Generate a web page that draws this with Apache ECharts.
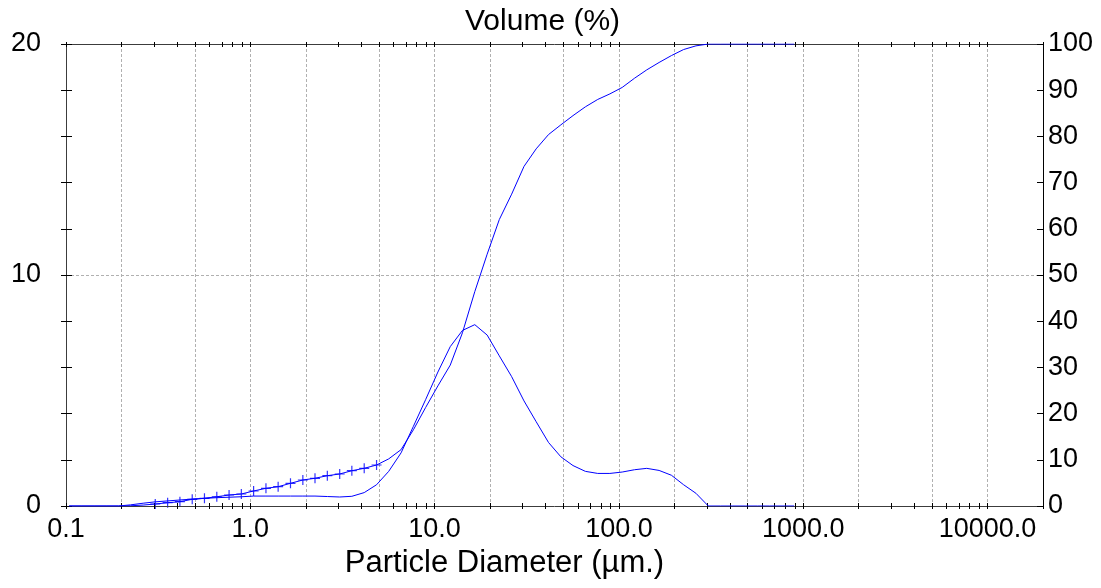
<!DOCTYPE html>
<html><head><meta charset="utf-8">
<script src="https://cdn.jsdelivr.net/npm/echarts@6/dist/echarts.min.js"></script>
<style>html,body{margin:0;padding:0;background:#fff}#chart{width:1101px;height:588px}</style>
</head><body><div id="chart"></div>
<script>
// Particle diameter channels (µm)
const diameters = [0.104,0.122,0.142,0.165,0.193,0.224,0.262,0.305,0.356,0.415,0.484,0.564,0.658,0.767,0.894,1.042,1.216,1.416,1.652,1.928,2.244,2.618,3.055,3.556,4.150,4.842,5.636,6.577,7.674,8.933,10.42,12.16,14.16,16.52,19.28,22.44,26.18,30.55,35.56,41.50,48.42,56.36,65.77,76.74,89.33,104.2,121.6,141.6,165.2,192.8,224.4,261.8,305.5,355.6,415.0,484.2,563.6,657.7,767.4,893.3];
// Volume frequency (%), left axis
const volumeFrequency = [0,0,0,0,0,0.05,0.12,0.18,0.22,0.26,0.30,0.33,0.36,0.38,0.40,0.43,0.43,0.43,0.43,0.43,0.43,0.41,0.39,0.42,0.58,0.92,1.50,2.30,3.45,4.60,5.80,6.90,7.60,7.85,7.40,6.50,5.60,4.55,3.65,2.75,2.13,1.75,1.50,1.41,1.41,1.47,1.57,1.63,1.54,1.33,0.92,0.55,0,0,0,0,0,0,0,0];
// Cumulative volume (%), right axis
const volumeCumulative = [0,0,0,0,0,0.05,0.2,0.43,0.71,0.93,1.45,1.67,2.0,2.38,2.6,3.25,3.83,4.18,4.91,5.63,6.0,6.56,6.93,7.64,8.16,8.87,10.2,12.2,16.5,21.3,26.0,30.5,37.5,46.4,54.5,62.0,67.5,73.5,77.3,80.4,82.5,84.5,86.4,88.0,89.2,90.6,92.6,94.4,96.0,97.5,98.8,99.6,100,100,100,100,100,100,100,100];
// "+" marked points (µm, cumulative %)
const markerDiameters = [0.305,0.356,0.415,0.484,0.564,0.658,0.767,0.894,1.042,1.216,1.416,1.652,1.928,2.244,2.618,3.055,3.556,4.150,4.842];
const markerCumulative = [0.43,0.71,0.93,1.45,1.67,2.0,2.38,2.6,3.25,3.83,4.18,4.91,5.63,6.0,6.56,6.93,7.64,8.16,8.87];

// Axis tick definitions
const X_MIN = 0.1, X_MAX = 20000;
const xLabelValues = [0.1, 1, 10, 100, 1000, 10000];
const xDecades = [0.1, 1, 10, 100, 1000, 10000];
const xMinorMultipliers = [1,2,3,4,5,6,7,8,9];
const xGridMultipliers = [1,2,5];
const leftTickValues = [0,2,4,6,8,10,12,14,16,18,20];
const leftLabelValues = [0,10,20];
const leftGridValues = [10];

const xTickValues = xDecades.flatMap(d => xMinorMultipliers.map(m => +(d*m).toPrecision(6))).filter(v => v <= X_MAX);
const xGridValues = xDecades.flatMap(d => xGridMultipliers.map(m => +(d*m).toPrecision(6))).filter(v => v > X_MIN && v < X_MAX);

const FONT = "'Liberation Sans', Arial, Helvetica, sans-serif";
const AXIS_COLOR = '#3c3c3c';
const BLUE = '#0000ff';
const GRID_LINE = {show:true, lineStyle:{color:'#b0b0b0', width:1, type:[3,2]}};

function blankAxis(extra){
  return Object.assign({
    gridIndex:0, z:3,
    axisLine:{show:false, onZero:false},
    axisLabel:{show:false},
    axisTick:{show:false},
    splitLine:{show:false},
    minorTick:{show:false},
    minorSplitLine:{show:false}
  }, extra);
}
function xLog(extra){ return blankAxis(Object.assign({type:'log', logBase:10, min:X_MIN, max:X_MAX}, extra)); }
function yVal(min, max, interval, extra){ return blankAxis(Object.assign({type:'value', min:min, max:max, interval:interval}, extra)); }

const chart = echarts.init(document.getElementById('chart'), null, {renderer:'canvas'});
chart.setOption({
  animation:false,
  backgroundColor:'#ffffff',
  textStyle:{fontFamily:FONT},
  title:{text:'Volume (%)', left:465, top:7, padding:0,
    textStyle:{fontSize:30, fontWeight:'normal', color:'#000', fontFamily:FONT}},
  grid:{left:66, right:58, top:44, bottom:82, containLabel:false, outerBoundsMode:'none'},
  xAxis:[
    // grid lines (1-2-5 per decade)
    xLog({position:'bottom', z:0, axisTick:{show:false, customValues:xGridValues}, splitLine:GRID_LINE}),
    // main bottom axis
    xLog({position:'bottom',
      axisLine:{show:true, onZero:false, lineStyle:{color:AXIS_COLOR, width:1}},
      axisTick:{show:true, customValues:xTickValues, inside:false, length:3, lineStyle:{color:'#000', width:1}},
      axisLabel:{show:true, customValues:xLabelValues, formatter:v => Number(v).toFixed(1), fontSize:27, color:'#000', fontFamily:FONT, margin:10},
      name:'Particle Diameter (µm.)', nameLocation:'middle', nameGap:40,
      nameTextStyle:{fontSize:31, color:'#000', fontFamily:FONT, padding:[0,100,0,0], verticalAlign:'top'}}),
    xLog({position:'bottom', axisTick:{show:true, customValues:xTickValues, inside:true, length:3, lineStyle:{color:'#000', width:1}}}),
    // top axis
    xLog({position:'top',
      axisLine:{show:true, onZero:false, lineStyle:{color:AXIS_COLOR, width:1}},
      axisTick:{show:true, customValues:xTickValues, inside:false, length:2, lineStyle:{color:'#000', width:1}}}),
    xLog({position:'top', axisTick:{show:true, customValues:xTickValues, inside:true, length:3, lineStyle:{color:'#000', width:1}}})
  ],
  yAxis:[
    // main left (volume frequency)
    yVal(0, 20, 10, {position:'left',
      axisLine:{show:true, onZero:false, lineStyle:{color:AXIS_COLOR, width:1}},
      axisTick:{show:true, customValues:leftTickValues, inside:false, length:5, lineStyle:{color:'#000', width:1}},
      axisLabel:{show:true, customValues:leftLabelValues, fontSize:27, color:'#000', fontFamily:FONT, margin:25}}),
    // right (cumulative)
    yVal(0, 100, 10, {position:'right',
      axisLine:{show:true, onZero:false, lineStyle:{color:'#000', width:1}},
      axisTick:{show:true, inside:true, length:6, lineStyle:{color:'#000', width:1}},
      axisLabel:{show:true, fontSize:27, color:'#000', fontFamily:FONT, margin:5}}),
    // left inside ticks
    yVal(0, 20, 10, {position:'left',
      axisTick:{show:true, customValues:leftTickValues, inside:true, length:6, lineStyle:{color:'#000', width:1}}}),
    // horizontal grid line
    yVal(0, 20, 10, {position:'left', z:0, axisTick:{show:false, customValues:leftGridValues}, splitLine:GRID_LINE})
  ],
  series:[
    {name:'Volume frequency', type:'line', xAxisIndex:1, yAxisIndex:0, showSymbol:false, symbol:'none',
      lineStyle:{color:BLUE, width:1}, itemStyle:{color:BLUE}, emphasis:{disabled:true},
      data:diameters.map((d,i) => [d, volumeFrequency[i]])},
    {name:'Cumulative volume', type:'line', xAxisIndex:1, yAxisIndex:1, showSymbol:false, symbol:'none',
      lineStyle:{color:BLUE, width:1}, itemStyle:{color:BLUE}, emphasis:{disabled:true},
      data:diameters.map((d,i) => [d, volumeCumulative[i]])},
    {name:'Points', type:'scatter', xAxisIndex:1, yAxisIndex:1,
      symbol:'path://M0,5L10,5M5,0L5,10', symbolSize:10,
      itemStyle:{color:'rgba(0,0,0,0)', borderColor:BLUE, borderWidth:1.2}, emphasis:{disabled:true},
      data:markerDiameters.map((d,i) => [d, markerCumulative[i]])}
  ]
});
</script></body></html>
